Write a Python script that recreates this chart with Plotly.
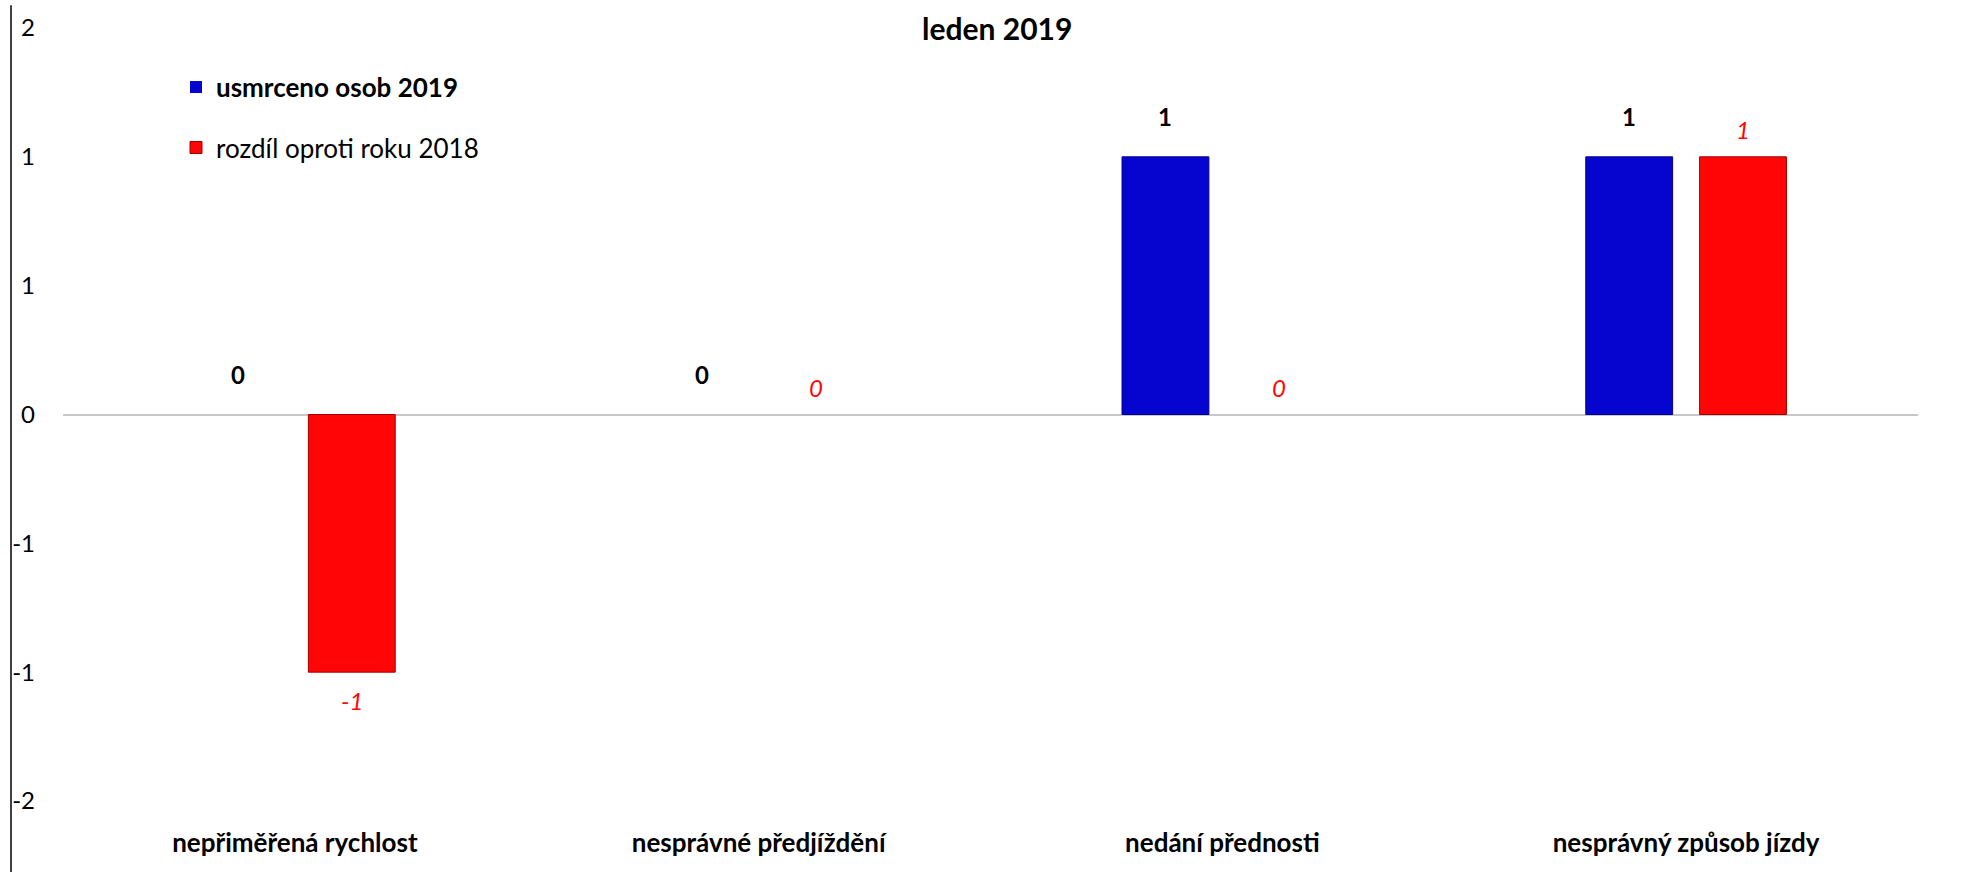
import plotly.graph_objects as go

categories = ["nepřiměřená rychlost", "nesprávné předjíždění", "nedání přednosti", "nesprávný způsob jízdy"]
usmrceno_2019 = [0, 0, 1, 1]
rozdil_2018 = [-1, 0, 0, 1]
series_names = ["usmrceno osob 2019", "rozdíl oproti roku 2018"]
title_text = "leden 2019"
y_tickvals = [-1.5, -1.0, -0.5, 0, 0.5, 1.0, 1.5]
y_ticktext = ["-2", "-1", "-1", "0", "1", "1", "2"]

FONT = "Lato, Carlito, Calibri, sans-serif"
FS = 26
BLUE = "#0505CF"
RED = "#FF0505"

W, H = 1970, 872
L, R, T, B = 63, 52, 21, 71
plot_h = H - T - B
plot_w = W - L - R
bargap = 0.509
bargroupgap = 0.237
offset = (1 - bargap) / 4.0

fig = go.Figure()
fig.add_trace(go.Bar(
    x=categories, y=usmrceno_2019, name="<b>" + series_names[0] + "</b>",
    marker=dict(color=BLUE, line=dict(color="#00008A",
                                      width=[0 if v == 0 else 1 for v in usmrceno_2019])),
    legend="legend",
))
fig.add_trace(go.Bar(
    x=categories, y=rozdil_2018, name=series_names[1],
    marker=dict(color=RED, line=dict(color="#A00000",
                                     width=[0 if v == 0 else 1 for v in rozdil_2018])),
    legend="legend2",
))

annotations = []
for i, v in enumerate(usmrceno_2019):
    annotations.append(dict(
        x=i - offset, y=v, xref="x", yref="y", text="<b>%d</b>" % v,
        showarrow=False, yshift=40 if v >= 0 else -40,
        font=dict(family=FONT, size=FS - 2, color="black"),
    ))
for i, v in enumerate(rozdil_2018):
    annotations.append(dict(
        x=i + offset, y=v, xref="x", yref="y", text="<i>%d</i>" % v,
        showarrow=False, yshift=27 if v >= 0 else -28,
        font=dict(family=FONT, size=FS - 2, color=RED),
    ))
# chart title at the very top
annotations.append(dict(
    x=(997 - L) / plot_w, y=(plot_h + T - 1) / plot_h, xref="paper", yref="paper",
    text="<b>" + title_text + "</b>", showarrow=False, xanchor="center", yanchor="top",
    font=dict(family=FONT, size=30, color="black"),
))

shapes = [dict(
    type="line", xref="paper", yref="paper",
    x0=(11 - L) / plot_w, x1=(11 - L) / plot_w,
    y0=-(B + 2) / plot_h, y1=(plot_h + T + 2) / plot_h,
    line=dict(color="#404040", width=2),
)]

fig.update_layout(
    width=W, height=H,
    margin=dict(l=L, r=R, t=T, b=B, pad=0),
    paper_bgcolor="white", plot_bgcolor="white",
    barmode="group", bargap=bargap, bargroupgap=bargroupgap,
    font=dict(family=FONT, size=FS, color="black"),
    showlegend=True,
    legend=dict(
        x=(176 - L) / plot_w, y=(plot_h + T - 57) / plot_h,
        xanchor="left", yanchor="top", bgcolor="rgba(0,0,0,0)",
        font=dict(family=FONT, size=FS, color="black"),
    ),
    legend2=dict(
        x=(176 - L) / plot_w, y=(plot_h + T - 118) / plot_h,
        xanchor="left", yanchor="top", bgcolor="rgba(0,0,0,0)",
        font=dict(family=FONT, size=FS, color="black"),
    ),
    xaxis=dict(
        type="category", showgrid=False, showline=False, zeroline=False,
        ticks="", ticklabelstandoff=24,
        tickfont=dict(family=FONT, size=FS, color="black"),
        tickvals=categories, ticktext=["<b>" + c + "</b>" for c in categories],
    ),
    yaxis=dict(
        range=[-1.5, 1.5], tickvals=y_tickvals, ticktext=y_ticktext,
        showgrid=False, showline=False, zeroline=True,
        zerolinecolor="#C8C8C8", zerolinewidth=2,
        ticks="", ticklabelstandoff=27,
        tickfont=dict(family=FONT, size=FS - 2, color="black"),
    ),
    annotations=annotations,
    shapes=shapes,
)

fig.write_html(
    "out.html",
    config={"displayModeBar": False},
    post_script="document.body.style.margin='0';document.body.style.overflow='hidden';",
)
